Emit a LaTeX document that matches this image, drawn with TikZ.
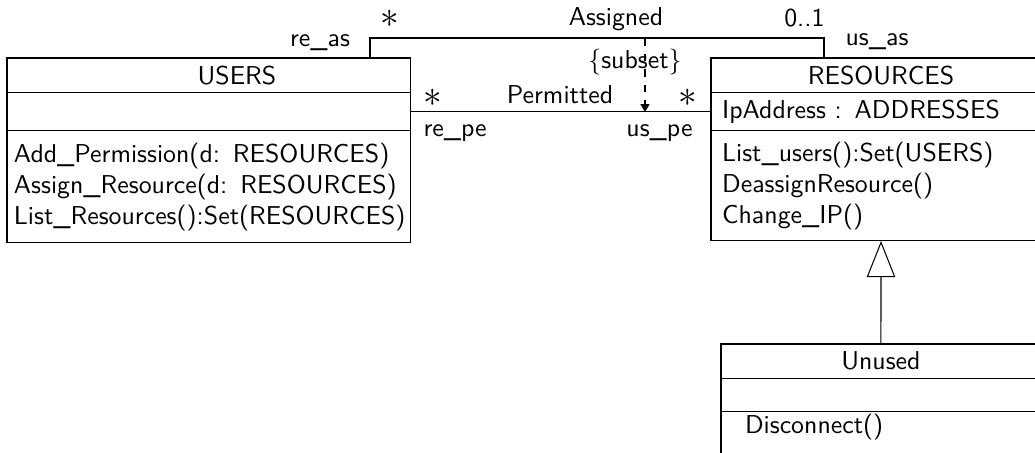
\documentclass[tikz,border=0pt]{standalone}
\usetikzlibrary{positioning,arrows.meta}
\renewcommand{\familydefault}{\sfdefault}

\begin{document}
\begin{tikzpicture}[x=0.387pt,y=-0.387pt]
  \path[use as bounding box] (0,0) rectangle (1035,452);
  \clip (0,0) rectangle (1035,452);
  % classes
  \begin{scope}[every node/.style={draw,outer sep=0pt,inner ysep=1.5pt}]
    \node[anchor=north west,text width=150.6pt,inner xsep=2.7pt,minimum height=13.5pt,align=center] (users) at (7,58) {\hspace*{22pt}USERS};
    \node[below=0pt of users,text width=150.6pt,inner xsep=2.7pt,minimum height=14.7pt] (usersatt) {};
    \node[below=0pt of usersatt,text width=150.6pt,inner xsep=2.7pt,minimum height=43.3pt,align=left] (usersops)
      {Add\_Permission(d: RESOURCES)\\Assign\_Resource(d: RESOURCES)\\List\_Resources():Set(RESOURCES)};
    \node[anchor=north west,text width=123pt,inner xsep=4.3pt,minimum height=13.5pt,align=center] (res) at (711,58) {RESOURCES};
    \node[below=0pt of res,text width=123pt,inner xsep=4.3pt,minimum height=14.7pt,align=left] (resatt) {IpAddress : ADDRESSES};
    \node[below=0pt of resatt,text width=123pt,inner xsep=4.3pt,minimum height=42.6pt,align=left] (resops)
      {List\_users():Set(USERS)\\DeassignResource()\\Change\_IP()};
    \node[anchor=north west,text width=105.2pt,inner xsep=9.3pt,minimum height=13.2pt,align=center] (unused) at (721,344) {Unused};
    \node[below=0pt of unused,text width=105.2pt,inner xsep=9.3pt,minimum height=12.8pt] (unusedatt) {};
    \node[below=0pt of unusedatt,text width=105.2pt,inner xsep=9.3pt,text height=7pt,text depth=25pt,align=left] (unusedops) {Disconnect()};
  \end{scope}
  % associations
  \coordinate (asgL) at (370,38);
  \coordinate (asgR) at (824,38);
  \coordinate (sub) at (645,38);
  \draw (users.north -| asgL) -- (asgL) -- (asgR) -- (res.north -| asgR);
  \draw (usersatt.east) -- (resatt.west);
  \draw[dashed,-{Triangle[length=3pt,width=3.5pt]}] (sub) -- (sub |- resatt.west);
  \draw[-{Triangle[open,length=14pt,width=11pt]}] (unused.north) -- (resops.south);
  % labels
  \begin{scope}[every node/.style={inner sep=0pt}]
    \node[font=\Large] (asgmul) at (390,19) {$\ast$};
    \node[anchor=base] (asg) at (616,25) {Assigned};
    \node[anchor=base east] (resmul) at (825,26) {0..1};
    \node[anchor=base] (reas) at (320,46) {re\_as};
    \node[anchor=base] (usas) at (877,45) {us\_as};
    \node[font=\Large] (permmulL) at (433,98) {$\ast$};
    \node[anchor=base] (perm) at (560,103) {Permitted};
    \node[font=\Large] (permmulR) at (688,98) {$\ast$};
    \node[anchor=base west] (repe) at (423,136) {re\_pe};
    \node[anchor=base east] (uspe) at (693,136) {us\_pe};
    \node[anchor=base] (subset) at (635,68) {$\{$subset$\}$};
  \end{scope}
\end{tikzpicture}
\end{document}
